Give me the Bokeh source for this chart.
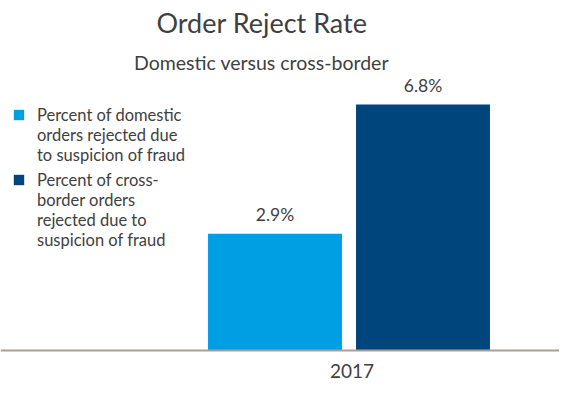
from bokeh.plotting import figure
from bokeh.models import Range1d, ColumnDataSource, LabelSet, Label, Legend, LegendItem, Span
from bokeh.core.properties import value
from bokeh.embed import file_html
from bokeh.resources import INLINE

# ---- data ----
series_lines = [
    ["Percent of domestic", "orders rejected due", "to suspicion of fraud"],
    ["Percent of cross-", "border orders", "rejected due to", "suspicion of fraud"],
]
values = [2.9, 6.8]
value_labels = ["2.9%", "6.8%"]
colors = ["#009FE3", "#00457C"]
year = "2017"
title_text = "Order Reject Rate"
subtitle_text = "Domestic versus cross-border"

# ---- layout constants ----
W, H = 559, 380
BASE = -0.63          # value at the chart baseline
PX_PER_UNIT = 33.1
BASE_PX = 30          # baseline height above bottom edge
X0_PX, X_PX = 274.5, 148.0
FONT = "Lato"
TXT = "#3f3f3f"

src = ColumnDataSource(dict(x=[0, 1], top=values, label=value_labels, color=colors,
                            bottom=[BASE, BASE]))

p = figure(width=W, height=H, output_backend="svg", toolbar_location=None,
           x_range=Range1d(-X0_PX / X_PX, (W - X0_PX) / X_PX),
           y_range=Range1d(BASE - BASE_PX / PX_PER_UNIT, BASE + (H - BASE_PX) / PX_PER_UNIT),
           min_border=0)
p.outline_line_color = None
p.grid.visible = False
p.axis.visible = False

r = p.vbar(x="x", top="top", bottom="bottom", width=0.905, fill_color="color",
           line_color=None, source=src)

p.add_layout(Span(location=BASE, dimension="width", line_color="#A89F98", line_width=2))

p.add_layout(LabelSet(x="x", y="top", text="label", source=src, y_offset=13,
                      text_align="center", text_baseline="alphabetic",
                      text_font=value(FONT), text_font_size="17.5px", text_color=TXT))

p.add_layout(Label(x=261.5, y=H - 22, x_units="screen", y_units="screen", text=title_text,
                   text_align="center", text_baseline="alphabetic",
                   text_font=FONT, text_font_size="27px", text_color=TXT))
p.add_layout(Label(x=261, y=H - 62, x_units="screen", y_units="screen", text=subtitle_text,
                   text_align="center", text_baseline="alphabetic",
                   text_font=FONT, text_font_size="19.5px", text_color=TXT))
p.add_layout(Label(x=0.5, y=10, x_units="data", y_units="screen", text=year, x_offset=3,
                   text_align="center", text_baseline="alphabetic",
                   text_font=FONT, text_font_size="19px", text_color=TXT))

legend_locs = [(12, H - 164.5), (12, H - 249.5)]
for i, lines in enumerate(series_lines):
    items = [LegendItem(label=lines[0], renderers=[r], index=i)]
    items += [LegendItem(label=t, renderers=[]) for t in lines[1:]]
    lg = Legend(items=items, location=legend_locs[i], padding=0, margin=0, spacing=0,
                glyph_width=13, glyph_height=13, label_standoff=12, label_height=20,
                label_text_font=FONT, label_text_font_size="16.5px",
                label_text_color=TXT, border_line_color=None, background_fill_alpha=0)
    p.add_layout(lg)

open("out.html", "w").write(file_html(p, INLINE))
